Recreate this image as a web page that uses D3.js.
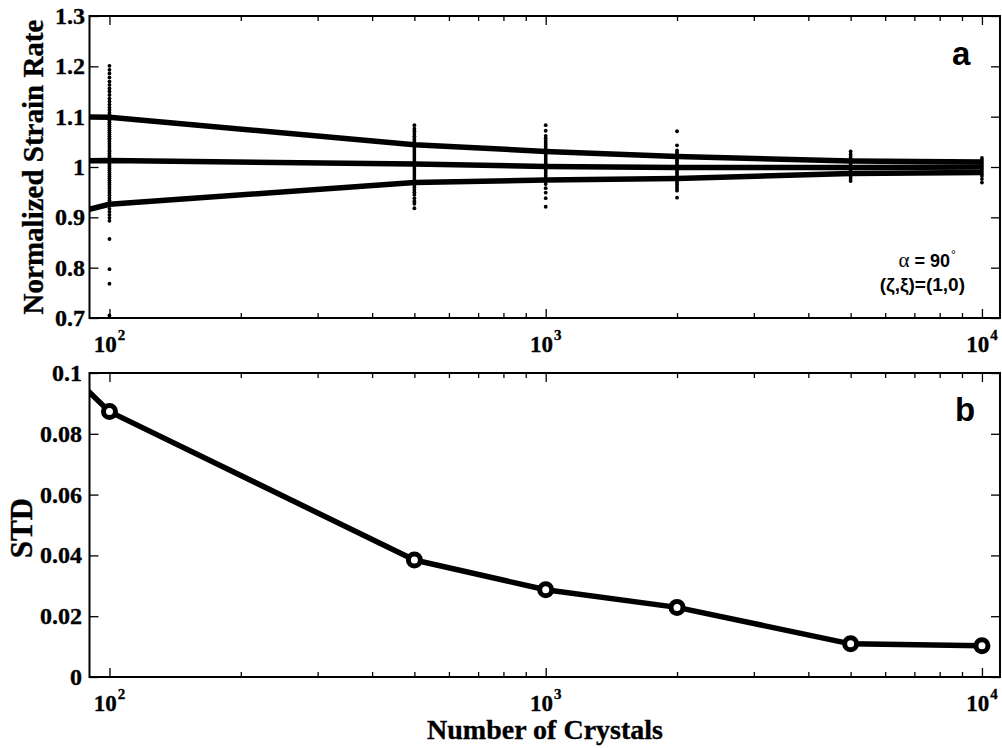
<!DOCTYPE html>
<html>
<head>
<meta charset="utf-8">
<script src="https://cdn.jsdelivr.net/npm/d3@7"></script>
<style>
  body { margin: 0; background: #fff; }
  svg { display: block; }
</style>
</head>
<body>
<svg id="chart" width="1002" height="748"></svg>
<script>
// Ensemble sizes used for the averaged curves
const crystalCounts = [50, 100, 500, 1000, 2000, 5000, 10000];
// Mean normalized strain rate and the +/- one standard deviation envelope
const upperBand = [1.100, 1.099, 1.044, 1.031, 1.021, 1.012, 1.010];
const meanRate  = [1.010, 1.013, 1.006, 1.001, 0.999, 0.999, 1.000];
const lowerBand = [0.860, 0.926, 0.969, 0.974, 0.977, 0.987, 0.989];
// Standard deviation of the normalized strain rate
const stdValues = [0.129, 0.0873, 0.0385, 0.0287, 0.0229, 0.0109, 0.0103];
// Points carrying a circle marker in the STD panel
const markerCounts = [100, 500, 1000, 2000, 5000, 10000];
const markerStd = [0.0873, 0.0385, 0.0287, 0.0229, 0.0109, 0.0103];

// Individual realisations at each ensemble size
const samples100 = [1.201, 1.193, 1.186, 1.178, 1.170, 1.163, 1.156, 1.150, 1.143, 1.136,
  1.130, 1.124, 1.118, 1.113, 1.108, 1.104, 1.100, 1.097, 1.093, 1.089, 1.085, 1.081,
  1.077, 1.073, 1.069, 1.065, 1.061, 1.057, 1.054, 1.050, 1.046, 1.042, 1.038, 1.034,
  1.031, 1.027, 1.023, 1.020, 1.016, 1.012, 1.009, 1.005, 1.001, 0.997, 0.993, 0.989,
  0.985, 0.981, 0.977, 0.973, 0.969, 0.965, 0.961, 0.957, 0.953, 0.949, 0.944, 0.939,
  0.934, 0.929, 0.923, 0.917, 0.911, 0.905, 0.899, 0.893, 0.857, 0.797, 0.768, 0.705];
const samples500 = [1.083, 1.076, 1.071, 1.066, 1.061, 1.056, 1.052, 1.048, 1.044, 1.040,
  1.036, 1.032, 1.028, 1.024, 1.020, 1.016, 1.012, 1.008, 1.004, 1.000, 0.996, 0.992,
  0.988, 0.984, 0.980, 0.976, 0.972, 0.968, 0.964, 0.960, 0.955, 0.950, 0.945, 0.938,
  0.932, 0.927, 0.918];
const samples1000 = [1.083, 1.072, 1.062, 1.057, 1.052, 1.048, 1.044, 1.040, 1.036, 1.032,
  1.028, 1.024, 1.020, 1.016, 1.012, 1.008, 1.004, 1.000, 0.996, 0.992, 0.988, 0.984,
  0.980, 0.976, 0.972, 0.966, 0.958, 0.949, 0.938, 0.921];
const samples2000 = [1.071, 1.043, 1.033, 1.029, 1.025, 1.021, 1.017, 1.013, 1.009, 1.005,
  1.001, 0.997, 0.993, 0.989, 0.985, 0.981, 0.977, 0.973, 0.969, 0.965, 0.961, 0.957,
  0.953, 0.939];
const samples5000 = [1.031, 1.025, 1.020, 1.016, 1.012, 1.008, 1.004, 1.000, 0.996, 0.992,
  0.988, 0.984, 0.980, 0.976, 0.972];
const samples10000 = [1.018, 1.014, 1.010, 1.006, 1.002, 0.998, 0.994, 0.990, 0.986, 0.982,
  0.976, 0.969];

// Axis ticks and labels
const xMajorTicks = [100, 1000, 10000];
const xTickExponents = ["2", "3", "4"];
const xMinorTicks = [200, 300, 400, 500, 600, 700, 800, 900,
  2000, 3000, 4000, 5000, 6000, 7000, 8000, 9000];
const rateTicks = [0.7, 0.8, 0.9, 1.0, 1.1, 1.2, 1.3];
const rateTickLabels = ["0.7", "0.8", "0.9", "1", "1.1", "1.2", "1.3"];
const stdTicks = [0, 0.02, 0.04, 0.06, 0.08, 0.1];
const stdTickLabels = ["0", "0.02", "0.04", "0.06", "0.08", "0.1"];

const svg = d3.select("#chart");
const SERIF = "'Liberation Serif', 'Times New Roman', serif";
const SANS = "'Liberation Sans', Arial, sans-serif";

const left = 89.5, right = 1000;
const topPanel = { top: 16, bottom: 318, labelRight: 85 };
const botPanel = { top: 373, bottom: 677, labelRight: 82 };

const x = d3.scaleLog().domain([90, 11000]).range([left, right]);
const yRate = d3.scaleLinear().domain([0.7, 1.3]).range([topPanel.bottom, topPanel.top]);
const yStd = d3.scaleLinear().domain([0, 0.1]).range([botPanel.bottom, botPanel.top]);

function label(g, px, py, str, opts) {
  const fam = opts.family || SERIF;
  return g.append("text")
    .attr("transform", `translate(${px},${py})${opts.rotate ? " rotate(" + opts.rotate + ")" : ""}`)
    .attr("text-anchor", opts.anchor || "start")
    .attr("font-family", fam)
    .attr("font-weight", opts.weight || "bold")
    .attr("font-size", opts.size)
    .attr("fill", "#000")
    .attr("stroke", fam === SERIF ? "#000" : "none")
    .attr("stroke-width", 0.35)
    .text(str);
}

function drawFrame(panel, y, yTicks, yLabels, id) {
  const g = svg.append("g");
  // inward tick marks on all four sides
  g.append("g").attr("transform", `translate(${left},0)`)
    .call(d3.axisLeft(y).tickValues(yTicks).tickSize(-9).tickSizeOuter(0).tickFormat(""));
  g.append("g").attr("transform", `translate(${right},0)`)
    .call(d3.axisRight(y).tickValues(yTicks).tickSize(-9).tickSizeOuter(0).tickFormat(""));
  g.append("g").attr("transform", `translate(0,${panel.bottom})`)
    .call(d3.axisBottom(x).tickValues(xMajorTicks).tickSize(-9).tickSizeOuter(0).tickFormat(""));
  g.append("g").attr("transform", `translate(0,${panel.bottom})`)
    .call(d3.axisBottom(x).tickValues(xMinorTicks).tickSize(-5).tickSizeOuter(0).tickFormat(""));
  g.append("g").attr("transform", `translate(0,${panel.top})`)
    .call(d3.axisTop(x).tickValues(xMajorTicks).tickSize(-9).tickSizeOuter(0).tickFormat(""));
  g.append("g").attr("transform", `translate(0,${panel.top})`)
    .call(d3.axisTop(x).tickValues(xMinorTicks).tickSize(-5).tickSizeOuter(0).tickFormat(""));
  g.selectAll(".domain").remove();
  g.selectAll(".tick line").attr("stroke", "#000").attr("stroke-width", 1.3);
  g.append("rect")
    .attr("x", left).attr("y", panel.top)
    .attr("width", right - left).attr("height", panel.bottom - panel.top)
    .attr("fill", "none").attr("stroke", "#000").attr("stroke-width", 2);

  // y tick labels
  yTicks.forEach((v, i) => {
    label(g, panel.labelRight, y(v) + 8, yLabels[i], { size: 24, anchor: "end" });
  });
  // x tick labels as powers of ten, centred as a whole on the tick
  xMajorTicks.forEach((v, i) => {
    const base = label(g, 0, 0, "10", { size: 23 });
    const sup = label(g, 0, 0, xTickExponents[i], { size: 15 });
    const w1 = base.node().getComputedTextLength();
    const w2 = sup.node().getComputedTextLength();
    const x0 = x(v) - (w1 + 1 + w2) / 2;
    base.attr("transform", `translate(${x0},${panel.bottom + 34})`);
    sup.attr("transform", `translate(${x0 + w1 + 1},${panel.bottom + 22})`);
  });

  svg.append("clipPath").attr("id", id)
    .append("rect").attr("x", left).attr("y", panel.top)
    .attr("width", right - left).attr("height", panel.bottom - panel.top);
  return g;
}

// ---------- panel a: normalized strain rate ----------
drawFrame(topPanel, yRate, rateTicks, rateTickLabels, "clipA");
const plotA = svg.append("g").attr("clip-path", "url(#clipA)");

const sampleSets = [
  [100, samples100], [500, samples500], [1000, samples1000],
  [2000, samples2000], [5000, samples5000], [10000, samples10000]
];
sampleSets.forEach(([n, vals]) => {
  plotA.append("g").selectAll("circle").data(vals).join("circle")
    .attr("cx", x(n)).attr("cy", d => yRate(d)).attr("r", 1.9).attr("fill", "#000");
});

const rateLine = d3.line().x((d, i) => x(crystalCounts[i])).y(d => yRate(d));
[upperBand, meanRate, lowerBand].forEach(series => {
  plotA.append("path").datum(series)
    .attr("d", rateLine).attr("fill", "none")
    .attr("stroke", "#000").attr("stroke-width", 5.5).attr("stroke-linejoin", "round");
});

label(svg, 952, 65, "a", { size: 33, family: SANS });

// annotation
const ann = svg.append("text")
  .attr("x", 950).attr("y", 267)
  .attr("text-anchor", "end")
  .attr("font-family", SANS).attr("font-weight", "bold").attr("font-size", 18);
ann.append("tspan").attr("font-family", SERIF).attr("font-weight", "normal").attr("font-size", 21).text("α");
ann.append("tspan").text(" = 90");
svg.append("text")
  .attr("x", 951).attr("y", 259)
  .attr("font-family", SANS).attr("font-size", 12).attr("fill", "#000").text("°");
label(svg, 965, 291, "(ζ,ξ)=(1,0)", { size: 19, family: SANS, anchor: "end" });

// y label
label(svg, 43, (topPanel.top + topPanel.bottom) / 2, "Normalized Strain Rate",
  { size: 29, anchor: "middle", rotate: -90 });

// ---------- panel b: standard deviation ----------
drawFrame(botPanel, yStd, stdTicks, stdTickLabels, "clipB");
const plotB = svg.append("g").attr("clip-path", "url(#clipB)");

const stdLine = d3.line().x((d, i) => x(crystalCounts[i])).y(d => yStd(d));
plotB.append("path").datum(stdValues)
  .attr("d", stdLine).attr("fill", "none")
  .attr("stroke", "#000").attr("stroke-width", 5.5).attr("stroke-linejoin", "round");
plotB.append("g").selectAll("circle").data(markerStd).join("circle")
  .attr("cx", (d, i) => x(markerCounts[i])).attr("cy", d => yStd(d))
  .attr("r", 6).attr("fill", "#fff").attr("stroke", "#000").attr("stroke-width", 5);

label(svg, 955, 421, "b", { size: 33, family: SANS });

label(svg, 32, 528, "STD", { size: 31, anchor: "middle", rotate: -90 });

label(svg, 545, 739, "Number of Crystals", { size: 28, anchor: "middle" });
</script>
</body>
</html>
